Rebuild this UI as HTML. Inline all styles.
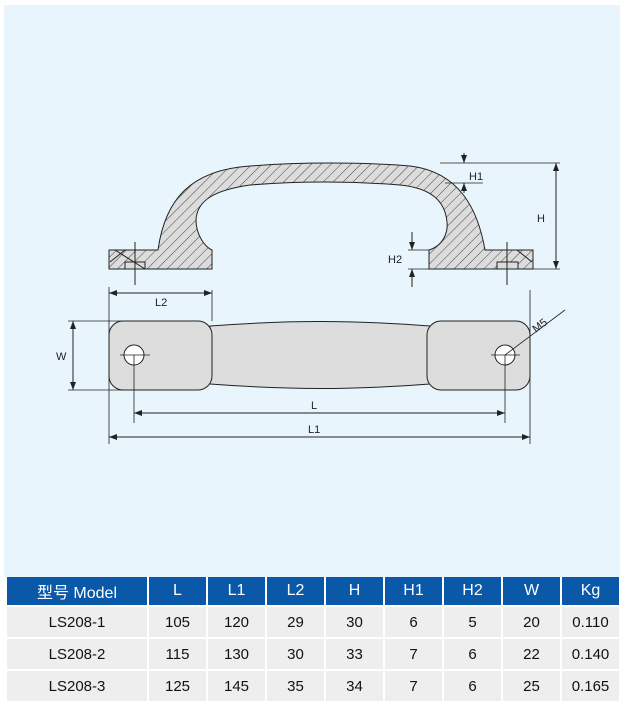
<!DOCTYPE html>
<html><head><meta charset="utf-8"><style>
body{margin:0;background:#fff;width:625px;height:706px;position:relative;overflow:hidden;font-family:"Liberation Sans","Noto Sans CJK SC",sans-serif}
#bg{position:absolute;left:4px;top:5px;width:616px;height:572px;background:#e8f5fd}
svg{position:absolute;left:0;top:0}
table{position:absolute;left:5px;top:577px;border-collapse:collapse;width:614px;table-layout:fixed}
td{height:30px;text-align:center;font-size:15px;color:#111;background:#eeeeee;border:2px solid #fff;padding:0}
th{height:28px;background:#0a58a8;color:#fff;font-weight:normal;font-size:16px;border:2px solid #fff;border-top:none;padding:0}
</style></head><body>
<div id="bg"></div>
<svg width="625" height="706" viewBox="0 0 625 706">
<defs>
<pattern id="h" width="7" height="7" patternUnits="userSpaceOnUse" patternTransform="rotate(45)">
<rect width="7" height="7" fill="#dcdcdc"/><line x1="0" y1="0" x2="0" y2="7" stroke="#333" stroke-width="0.9"/></pattern>
<marker id="a" markerWidth="8" markerHeight="6" refX="8" refY="3" orient="auto-start-reverse" markerUnits="userSpaceOnUse"><path d="M0,0 L8,3 L0,6 Z" fill="#222"/></marker>
</defs>
<g stroke="#222" stroke-width="1" fill="none">
<path fill="url(#h)" d="M109,250 L158,250 C165,200 190,170 250,166 C300,162 360,162 410,166 C460,172 478,210 485,250 L533,250 L533,269 L429,269 L429,250 C445,245 448,230 447,222 C445,200 430,188 400,185 C350,181 300,181 250,185 C215,190 197,200 196,220 C196,235 205,247 212,250 L212,269 L109,269 Z"/>
<rect x="125" y="262" width="20" height="7" fill="#dcdcdc"/>
<rect x="497" y="262" width="21" height="7" fill="#dcdcdc"/>
<path d="M135,242 V285 M507,242 V285 M115,250 L145,269 M125,250 L110,262 M517,250 L532,262"/>
<path d="M440,163 H560 M533,269 H560 M445,183 H483 M408,250 H430 M408,269 H430" stroke-width="0.8"/>
<line x1="556" y1="163" x2="556" y2="269" marker-start="url(#a)" marker-end="url(#a)"/>
<line x1="464" y1="153" x2="464" y2="163" marker-end="url(#a)"/>
<line x1="464" y1="193" x2="464" y2="183" marker-end="url(#a)"/>
<line x1="412" y1="232" x2="412" y2="250" marker-end="url(#a)"/>
<line x1="412" y1="287" x2="412" y2="269" marker-end="url(#a)"/>
<path fill="#dddddd" d="M210,326 C290,320 350,320 430,326 L430,384 C350,390 290,390 210,384 Z"/>
<rect x="109" y="321" width="103" height="69" rx="14" fill="#dddddd"/>
<rect x="427" y="321" width="103" height="69" rx="14" fill="#dddddd"/>
<circle cx="134" cy="355" r="10" fill="#fff"/>
<circle cx="505" cy="355" r="10" fill="#fff"/>
<path d="M120,355 H150 M491,355 H520 M134,355 V423 M505,355 V423 M505,355 L565,310 M109,287 V444 M530,290 V444 M212,290 V321 M68,321 H125 M68,390 H125" stroke-width="0.8"/>
<line x1="109" y1="293" x2="212" y2="293" marker-start="url(#a)" marker-end="url(#a)"/>
<line x1="73" y1="321" x2="73" y2="390" marker-start="url(#a)" marker-end="url(#a)"/>
<line x1="134" y1="413" x2="505" y2="413" marker-start="url(#a)" marker-end="url(#a)"/>
<line x1="109" y1="437" x2="530" y2="437" marker-start="url(#a)" marker-end="url(#a)"/>
</g>
<g font-size="11" fill="#222" font-family="Liberation Sans,sans-serif">
<text x="469" y="180">H1</text>
<text x="537" y="222">H</text>
<text x="388" y="263">H2</text>
<text x="155" y="306">L2</text>
<text x="56" y="360">W</text>
<text x="311" y="409">L</text>
<text x="308" y="433">L1</text>
<text x="536" y="333" transform="rotate(-38 536 333)">M5</text>
</g>
</svg>
<table>
<colgroup><col style="width:142px"><col span="8" style="width:59px"></colgroup>
<tr><th>型号 Model</th><th>L</th><th>L1</th><th>L2</th><th>H</th><th>H1</th><th>H2</th><th>W</th><th>Kg</th></tr>
<tr><td>LS208-1</td><td>105</td><td>120</td><td>29</td><td>30</td><td>6</td><td>5</td><td>20</td><td>0.110</td></tr>
<tr><td>LS208-2</td><td>115</td><td>130</td><td>30</td><td>33</td><td>7</td><td>6</td><td>22</td><td>0.140</td></tr>
<tr><td>LS208-3</td><td>125</td><td>145</td><td>35</td><td>34</td><td>7</td><td>6</td><td>25</td><td>0.165</td></tr>
</table>
</body></html>
